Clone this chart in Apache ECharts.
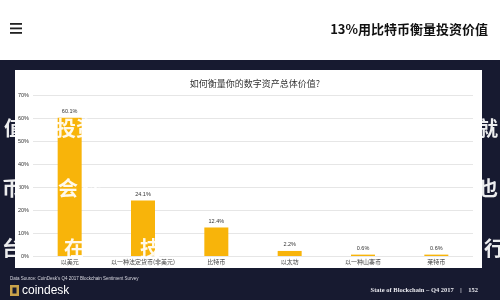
<!DOCTYPE html>
<html><head><meta charset="utf-8">
<script src="https://cdn.jsdelivr.net/npm/echarts@6/dist/echarts.min.js"></script>
<style>html,body{margin:0;padding:0;background:#fff}#c{width:500px;height:300px}</style>
</head><body><div id="c"></div>
<script>
const categories = ['以美元', '以一种法定货币(非美元)', '比特币', '以太坊', '以一种山寨币', '莱特币'];
const values = [60.1, 24.1, 12.4, 2.2, 0.6, 0.6];
const valueLabels = ['60.1%', '24.1%', '12.4%', '2.2%', '0.6%', '0.6%'];
const yTicks = [0, 10, 20, 30, 40, 50, 60, 70];

const chart = echarts.init(document.getElementById('c'), null, {renderer: 'canvas'});
const serif = 'Liberation Serif, DejaVu Serif, serif';
const sans = 'Noto Sans CJK SC, Noto Sans, sans-serif';
const overlay = [
  {x: 4, y: 118, t: '值'}, {x: 56, y: 118, t: '投资'}, {x: 478, y: 118, t: '就'},
  {x: 2, y: 178, t: '币'}, {x: 58, y: 178, t: '会 你'}, {x: 478, y: 178, t: '也'},
  {x: 2, y: 238, t: '台'}, {x: 64, y: 238, t: '在'}, {x: 140, y: 238, t: '技'}, {x: 484, y: 238, t: '行'}
];
chart.setOption({
  backgroundColor: '#ffffff',
  animation: false,
  title: {
    text: '如何衡量你的数字资产总体价值?',
    left: 250, top: 74, textAlign: 'center',
    textStyle: {fontSize: 9, fontWeight: 'normal', color: '#333', fontFamily: sans}
  },
  grid: {left: 33, right: 27, top: 95, bottom: 44, containLabel: false},
  xAxis: {
    type: 'category', data: categories,
    axisLine: {show: false}, axisTick: {show: false},
    axisLabel: {fontSize: 6, color: '#444', margin: 3, interval: 0, fontFamily: sans}
  },
  yAxis: {
    type: 'value', min: 0, max: 70, interval: 10,
    axisLine: {show: false}, axisTick: {show: false},
    axisLabel: {fontSize: 5.5, color: '#333', margin: 4, formatter: v => v + '%'},
    splitLine: {lineStyle: {color: '#e6e6e6', width: 1}}
  },
  series: [{
    type: 'bar', data: values, barWidth: 24,
    itemStyle: {color: '#f8b40a'},
    label: {show: true, position: 'top', distance: 3, fontSize: 5.5, color: '#333',
      formatter: p => valueLabels[p.dataIndex]}
  }],
  graphic: [
    {type: 'rect', z: -10, shape: {x: 0, y: 0, width: 500, height: 60}, style: {fill: '#ffffff'}, silent: true},
    {type: 'rect', z: -10, shape: {x: 0, y: 60, width: 15, height: 240}, style: {fill: '#171a30'}},
    {type: 'rect', z: -10, shape: {x: 482, y: 60, width: 18, height: 240}, style: {fill: '#171a30'}},
    {type: 'rect', z: -10, shape: {x: 0, y: 60, width: 500, height: 10}, style: {fill: '#171a30'}},
    {type: 'rect', z: -10, shape: {x: 0, y: 268, width: 500, height: 32}, style: {fill: '#171a30'}},
    {type: 'rect', shape: {x: 10, y: 23, width: 12, height: 1.8}, style: {fill: '#222'}},
    {type: 'rect', shape: {x: 10, y: 27.5, width: 12, height: 1.8}, style: {fill: '#222'}},
    {type: 'rect', shape: {x: 10, y: 32, width: 12, height: 1.8}, style: {fill: '#222'}},
    {type: 'text', x: 488, y: 29, style: {text: '13%用比特币衡量投资价值', align: 'right', verticalAlign: 'middle',
      fontSize: 13, fontWeight: 'bold', fill: '#111', fontFamily: sans}},
    {type: 'text', x: 10, y: 279, style: {text: "Data Source: CoinDesk's Q4 2017 Blockchain Sentiment Survey", verticalAlign: 'middle',
      fontSize: 4.5, fill: '#d8d8e0', fontFamily: 'Liberation Sans, sans-serif'}},
    {type: 'rect', shape: {x: 10, y: 285, width: 9, height: 11}, style: {fill: '#c9a24a'}},
    {type: 'rect', shape: {x: 12.5, y: 287.5, width: 4, height: 6}, style: {fill: '#171a30'}},
    {type: 'text', x: 22, y: 290.5, style: {text: 'coindesk', verticalAlign: 'middle',
      fontSize: 12, fill: '#ffffff', fontFamily: 'Liberation Sans, sans-serif'}},
    {type: 'text', x: 478, y: 290, style: {text: 'State of Blockchain – Q4 2017    |    152', align: 'right', verticalAlign: 'middle',
      fontSize: 6.5, fontWeight: 'bold', fill: '#e8e8ee', fontFamily: serif}}
  ].concat(overlay.map(o => ({type: 'text', x: o.x, y: o.y, z: 100,
      style: {text: o.t, fontSize: 20, fontWeight: 'bold', fill: 'rgba(255,255,255,0.92)', fontFamily: 'Noto Sans CJK SC, serif'}})))
});
</script></body></html>
